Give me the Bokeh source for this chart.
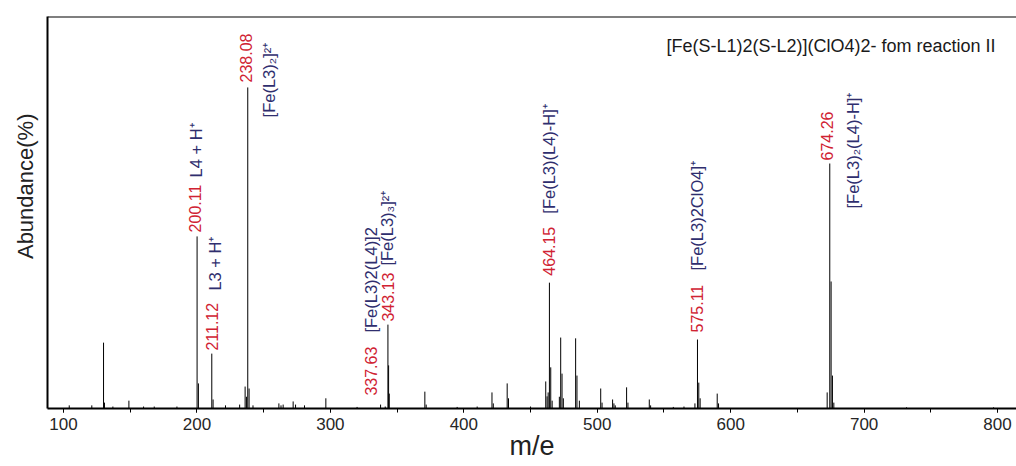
from math import pi
from bokeh.plotting import figure
from bokeh.models import Range1d, FixedTicker, Label, Span, ColumnDataSource, Title
from bokeh.embed import file_html
from bokeh.resources import INLINE

# ---- spectrum data (m/e, relative abundance %) ----
mz = [104.3, 121.2, 130.0, 130.7, 137.0, 149.0, 160.0, 168.0, 185.0,
      200.11, 201.1, 211.12, 212.1, 221.4, 232.0, 236.1, 237.1, 238.08, 239.08, 242.0,
      261.4, 263.0, 264.6, 272.1, 273.9, 280.6, 296.6, 320.0,
      337.63, 341.1, 343.13, 343.63, 344.13, 370.8, 371.8, 395.0, 410.0,
      421.1, 422.1, 432.5, 433.5, 450.0,
      461.4, 462.4, 463.2, 464.15, 465.15, 466.2, 471.6, 472.6, 473.6, 474.6,
      483.8, 484.8, 486.6, 502.6, 503.6, 511.5, 512.5, 513.5, 522.0, 523.0,
      539.0, 540.0, 557.0, 565.0, 573.2, 575.11, 576.1, 577.1, 589.9, 590.9,
      672.3, 674.26, 675.26, 676.26, 677.3, 731.8, 797.0]
abundance = [0.8, 0.8, 16.8, 1.5, 0.5, 2.0, 0.5, 0.5, 0.5,
             43.9, 6.4, 14.0, 2.3, 0.8, 1.0, 5.6, 3.0, 81.9, 5.1, 0.8,
             1.3, 0.8, 1.0, 1.8, 1.0, 0.8, 2.6, 0.4,
             1.0, 0.5, 21.4, 11.0, 3.8, 4.3, 1.0, 0.4, 0.5,
             4.1, 1.3, 6.4, 2.6, 0.5,
             6.9, 3.1, 4.1, 32.1, 10.5, 2.0, 3.0, 18.1, 8.9, 2.6,
             17.9, 8.4, 2.0, 5.1, 1.5, 2.3, 1.3, 0.8, 5.4, 1.5,
             2.3, 0.8, 0.4, 0.5, 1.3, 17.6, 6.6, 2.6, 3.8, 1.3,
             4.1, 62.5, 32.4, 8.4, 1.5, 0.3, 0.3]

# ---- annotated peaks ----
ann_mz = [200.11, 211.12, 238.08, 337.63, 343.13, 464.15, 575.11, 674.26]
ann_num = ["200.11", "211.12", "238.08", "337.63", "343.13", "464.15", "575.11", "674.26"]
ann_name = ["L4 + H\u207a", "L3 + H\u207a", "[Fe(L3)\u2082]\u00b2\u207a", "[Fe(L3)2(L4)]2",
            "[Fe(L3)\u2083]\u00b2\u207a", "[Fe(L3)(L4)-H]\u207a", "[Fe(L3)2ClO4]\u207a",
            "[Fe(L3)\u2082(L4)-H]\u207a"]

x_ticks = [100, 200, 300, 400, 500, 600, 700, 800]
x_minor = [100, 150, 200, 250, 300, 350, 400, 450, 500, 550, 600, 650, 700, 750, 800]

title_text = "[Fe(S-L1)2(S-L2)](ClO4)2- fom reaction II"
x_label = "m/e"
y_label = "Abundance(%)"

# ---- layout (screen-pixel offsets for the rotated labels) ----
num_off = [(-2, 4), (0, 3), (-2, 5), (-10, 9), (0, 3), (0, 7), (0, 7), (-3, 3)]
name_off = [(-1, 59), (3, 63), (21, -30), (-10, 72), (-1, 59), (0, 69), (0, 69), (23, -45)]

RED = "#d02232"
NAVY = "#2f2e6e"
FONT = "Liberation Sans"

p = figure(width=1016, height=466, output_backend="svg", toolbar_location=None,
           x_range=Range1d(88.0, 814.2), y_range=Range1d(0, 100),
           min_border_left=47, min_border_right=0, min_border_top=16, min_border_bottom=58)
p.outline_line_color = None
p.xgrid.visible = False
p.ygrid.visible = False
p.background_fill_color = "white"
p.border_fill_color = "white"

src = ColumnDataSource(dict(x=mz, y0=[0] * len(mz), y1=abundance))
p.segment(x0="x", y0="y0", x1="x", y1="y1", source=src, line_color="black", line_width=1)

# axes
xa = p.xaxis[0]
xa.ticker = FixedTicker(ticks=x_ticks, minor_ticks=x_minor)
xa.axis_line_width = 2
xa.axis_line_color = "black"
xa.major_tick_in = 0
xa.major_tick_out = 4
xa.minor_tick_in = 0
xa.minor_tick_out = 4
xa.major_tick_line_color = "black"
xa.minor_tick_line_color = "black"
xa.major_label_text_font = FONT
xa.major_label_text_font_size = "17px"
xa.major_label_text_color = "#262626"
xa.major_label_standoff = 5
xa.axis_label = x_label
xa.axis_label_text_font = FONT
xa.axis_label_text_font_size = "27px"
xa.axis_label_text_font_style = "normal"
xa.axis_label_text_color = "#222222"
xa.axis_label_standoff = -2

ya = p.yaxis[0]
ya.ticker = FixedTicker(ticks=[])
ya.axis_line_width = 2
ya.axis_line_color = "black"
ya.major_tick_line_color = None
ya.minor_tick_line_color = None
ya.major_tick_out = 0
ya.major_tick_in = 0
ya.major_label_text_font_size = "0px"
ya.major_label_standoff = 0

p.add_layout(Title(text=y_label, align="right", offset=97, standoff=20,
                   text_font=FONT, text_font_size="22px", text_font_style="normal",
                   text_color="#222222"), "left")

p.add_layout(Span(location=100, dimension="width", line_color="black", line_width=2))

# plot title inside
p.add_layout(Label(x=798.5, y=92.6, text=title_text, text_align="right",
                   text_baseline="middle", text_font=FONT, text_font_size="18px",
                   text_color="#1a1a1a"))

# peak annotations
for m, num, name, (ndx, ndy), (mdx, mdy) in zip(ann_mz, ann_num, ann_name, num_off, name_off):
    h = abundance[mz.index(m)]
    p.add_layout(Label(x=m, y=h, x_offset=ndx, y_offset=ndy, text=num, angle=pi / 2,
                       text_align="left", text_baseline="middle", text_font=FONT,
                       text_font_size="16px", text_color=RED))
    p.add_layout(Label(x=m, y=h, x_offset=mdx, y_offset=mdy, text=name, angle=pi / 2,
                       text_align="left", text_baseline="middle", text_font=FONT,
                       text_font_size="16.5px", text_color=NAVY))

open("out.html", "w").write(file_html(p, INLINE))
